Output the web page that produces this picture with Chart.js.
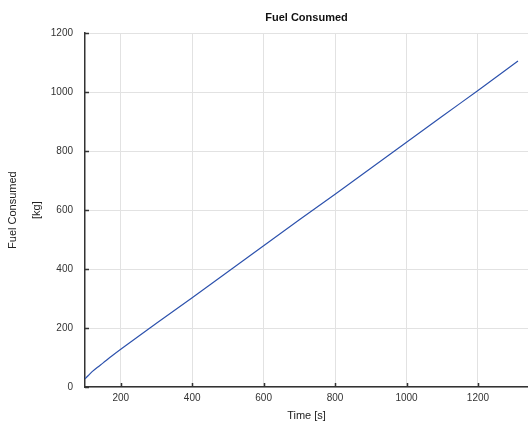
<!DOCTYPE html>
<html>
<head>
<meta charset="utf-8">
<script src="https://cdn.jsdelivr.net/npm/chart.js@4.4.0/dist/chart.umd.min.js"></script>
<style>
  html, body { margin: 0; padding: 0; background: #fff; }
  canvas { display: block; }
</style>
</head>
<body>
<canvas id="chart" width="528" height="425"></canvas>
<script>
// data
const timeValues = [100, 110, 120, 135, 150, 175, 200, 300, 400, 500, 600, 700, 800, 900, 1000, 1100, 1200, 1312];
const fuelValues = [28, 40, 52, 67, 81, 105, 128, 216, 303, 391, 479, 567, 654, 742, 830, 918, 1006, 1106];
const xTicks = [200, 400, 600, 800, 1000, 1200];
const yTicks = [0, 200, 400, 600, 800, 1000, 1200];

const points = timeValues.map((t, i) => ({ x: t, y: fuelValues[i] }));

// small tick marks drawn on the inside of the axes
const innerTicks = {
  id: 'innerTicks',
  afterDraw(chart) {
    const { ctx, chartArea, scales } = chart;
    ctx.save();
    ctx.strokeStyle = '#333';
    ctx.lineWidth = 1.5;
    ctx.beginPath();
    scales.x.ticks.forEach((t) => {
      const px = Math.round(scales.x.getPixelForValue(t.value)) + 0.5;
      ctx.moveTo(px, chartArea.bottom);
      ctx.lineTo(px, chartArea.bottom - 4);
    });
    scales.y.ticks.forEach((t) => {
      const py = Math.round(scales.y.getPixelForValue(t.value)) + 0.5;
      ctx.moveTo(chartArea.left, py);
      ctx.lineTo(chartArea.left + 4, py);
    });
    ctx.stroke();
    ctx.restore();
  },
};

Chart.defaults.font.family = "'Liberation Sans', Arial, sans-serif";
Chart.defaults.font.size = 10;
Chart.defaults.color = '#333';

new Chart(document.getElementById('chart'), {
  type: 'line',
  data: {
    datasets: [
      {
        label: 'Fuel Consumed',
        data: points,
        borderColor: '#2d52ad',
        borderWidth: 1.2,
        pointRadius: 0,
        tension: 0.3,
        fill: false,
      },
    ],
  },
  options: {
    responsive: false,
    animation: false,
    layout: { padding: 0 },
    scales: {
      x: {
        type: 'linear',
        min: 100,
        max: 1340,
        afterBuildTicks: (axis) => {
          axis.ticks = xTicks.map((v) => ({ value: v }));
        },
        afterFit: (scale) => {
          scale.height = 38;
        },
        grid: { color: '#e2e2e2', lineWidth: 1, drawTicks: false },
        border: { color: '#333', width: 1.5 },
        ticks: { padding: 5, maxRotation: 0, color: '#333', callback: (v) => String(v) },
        title: {
          display: true,
          text: 'Time [s]',
          font: { size: 11 },
          color: '#222',
          padding: { top: 0, bottom: 2 },
        },
      },
      y: {
        type: 'linear',
        min: 0,
        max: 1200,
        afterBuildTicks: (axis) => {
          axis.ticks = yTicks.map((v) => ({ value: v }));
        },
        afterFit: (scale) => {
          scale.width = 85;
        },
        grid: { color: '#e2e2e2', lineWidth: 1, drawTicks: false },
        border: { color: '#333', width: 1.5 },
        ticks: { padding: 12, color: '#333', callback: (v) => String(v) },
        title: {
          display: true,
          text: ['Fuel Consumed', '[kg]'],
          font: { size: 11, lineHeight: 2.18 },
          color: '#222',
          padding: { top: 1, bottom: 0 },
        },
      },
    },
    plugins: {
      legend: { display: false },
      tooltip: { enabled: false },
      title: {
        display: true,
        text: 'Fuel Consumed',
        fullSize: false,
        color: '#111',
        font: { size: 11, weight: 'bold' },
        padding: { top: 11, bottom: 9 },
      },
    },
  },
  plugins: [innerTicks],
});
</script>
</body>
</html>
